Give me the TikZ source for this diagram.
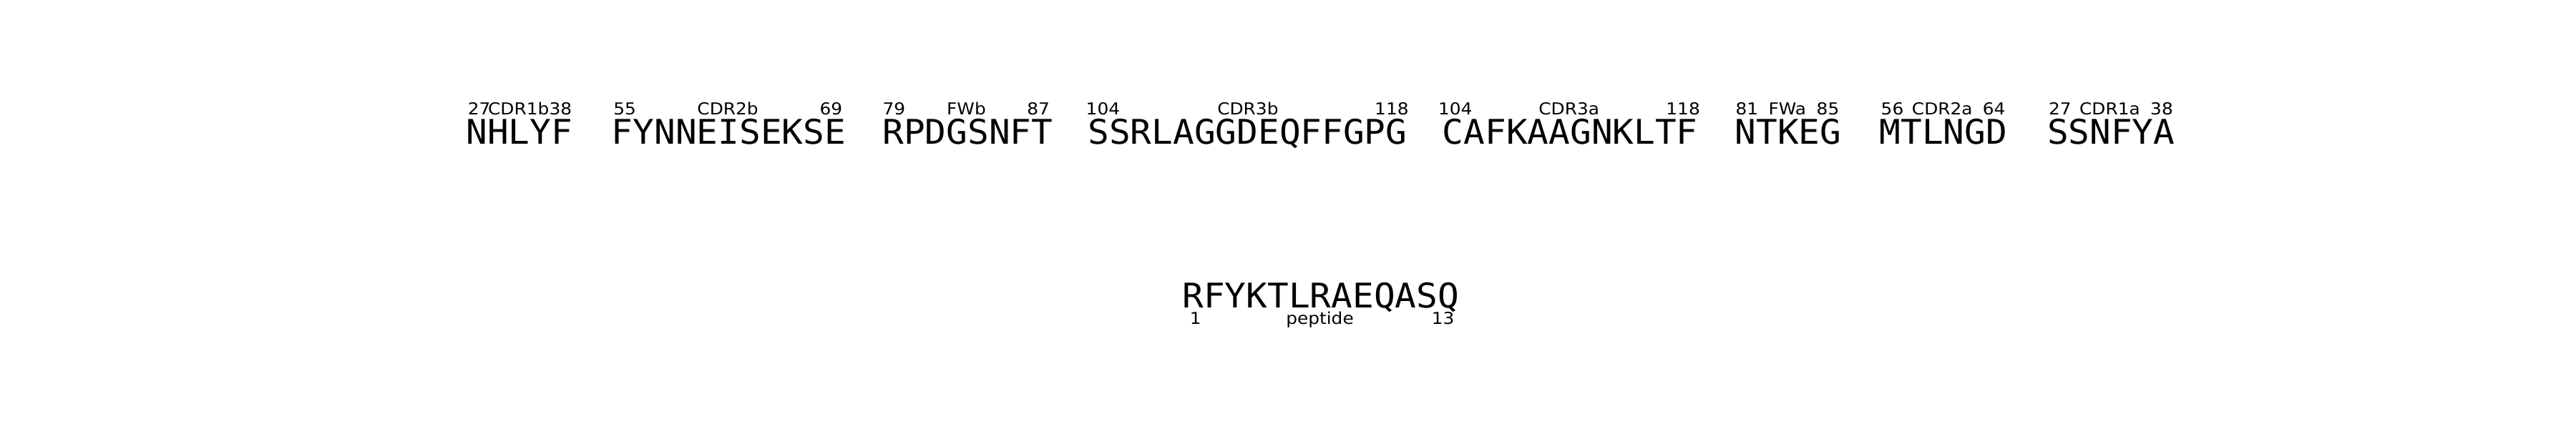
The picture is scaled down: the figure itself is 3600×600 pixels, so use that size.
\documentclass[tikz,border=0pt]{standalone}
\usepackage{graphicx}
\usepackage{fontspec}
\setmainfont{DejaVu Sans}
\newfontfamily\seqfont{DejaVu Sans Mono}
\newcommand\sqx[1]{\scalebox{1.04}[1]{#1}}
\newcommand\lbx[1]{\scalebox{1.08}[1]{#1}}
\tikzset{
  seqtxt/.style={inner sep=0pt, anchor=base, font=\seqfont\fontsize{11.875}{14}\selectfont},
  lbl/.style={inner sep=0pt, font=\fontsize{5.75}{7}\selectfont},
  lblL/.style={lbl, anchor=base west},
  lblC/.style={lbl, anchor=base},
  lblR/.style={lbl, anchor=base east},
}
\begin{document}
\begin{tikzpicture}[x=0.25pt,y=-0.25pt]
\useasboundingbox[fill=white] (0,0) rectangle (3600,600);
% segment 1
\node[seqtxt] (s1) at (725.7,201) {\sqx{NHLYF}};
\node[lblL] (s1l) at (653,160) {\lbx{27}};
\node[lblC] (s1n) at (724.8,160) {\lbx{CDR1b}};
\node[lblR] (s1r) at (800,160) {\lbx{38}};
% segment 2
\node[seqtxt] (s2) at (1018.4,201) {\sqx{FYNNEISEKSE}};
\node[lblL] (s2l) at (856.5,160) {\lbx{55}};
\node[lblC] (s2n) at (1017.1,160) {\lbx{CDR2b}};
\node[lblR] (s2r) at (1178,160) {\lbx{69}};
% segment 3
\node[seqtxt] (s3) at (1352.3,201) {\sqx{RPDGSNFT}};
\node[lblL] (s3l) at (1232.7,160) {\lbx{79}};
\node[lblC] (s3n) at (1350.5,160) {\lbx{FWb}};
\node[lblR] (s3r) at (1467.8,160) {\lbx{87}};
% segment 4
\node[seqtxt] (s4) at (1743.4,201) {\sqx{SSRLAGGDEQFFGPG}};
\node[lblL] (s4l) at (1516.9,160) {\lbx{104}};
\node[lblC] (s4n) at (1743.9,160) {\lbx{CDR3b}};
\node[lblR] (s4r) at (1969.4,160) {\lbx{118}};
% segment 5
\node[seqtxt] (s5) at (2194.3,201) {\sqx{CAFKAAGNKLTF}};
\node[lblL] (s5l) at (2009.2,160) {\lbx{104}};
\node[lblC] (s5n) at (2192.7,160) {\lbx{CDR3a}};
\node[lblR] (s5r) at (2376.6,160) {\lbx{118}};
% segment 6
\node[seqtxt] (s6) at (2499,201) {\sqx{NTKEG}};
\node[lblL] (s6l) at (2424.8,160) {\lbx{81}};
\node[lblC] (s6n) at (2497.8,160) {\lbx{FWa}};
\node[lblR] (s6r) at (2571.1,160) {\lbx{85}};
% segment 7
\node[seqtxt] (s7) at (2715.9,201) {\sqx{MTLNGD}};
\node[lblL] (s7l) at (2627.9,160) {\lbx{56}};
\node[lblC] (s7n) at (2714.3,160) {\lbx{CDR2a}};
\node[lblR] (s7r) at (2803.3,160) {\lbx{64}};
% segment 8
\node[seqtxt] (s8) at (2950.2,201) {\sqx{SSNFYA}};
\node[lblL] (s8l) at (2862.3,160) {\lbx{27}};
\node[lblC] (s8n) at (2948.4,160) {\lbx{CDR1a}};
\node[lblR] (s8r) at (3037.6,160) {\lbx{38}};
% peptide
\node[seqtxt] (p) at (1845.8,430.5) {\sqx{RFYKTLRAEQASQ}};
\node[lblL] (pl) at (1662,453.3) {\lbx{1}};
\node[lblC] (pn) at (1844.5,453.3) {\lbx{peptide}};
\node[lblR] (pr) at (2033.2,453.3) {\lbx{13}};
\end{tikzpicture}
\end{document}
